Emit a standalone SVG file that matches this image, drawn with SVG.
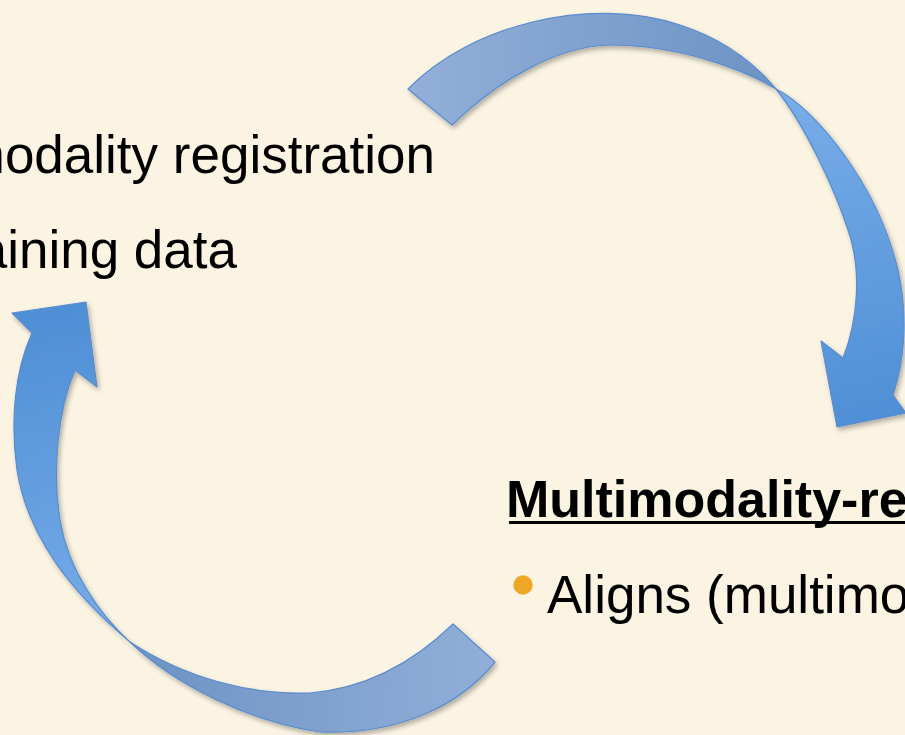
<svg xmlns="http://www.w3.org/2000/svg" width="905" height="735" viewBox="0 0 905 735">
  <defs>
    <style>
      .txt { font-family: "Liberation Sans", Arial, Helvetica, sans-serif; fill: #000000; }
      .reg { font-size: 53px; }
      .bold { font-size: 52px; font-weight: bold; }
      .arrow { stroke: #5a8dcd; stroke-width: 1.2; stroke-linejoin: round; filter: url(#shadow); }
    </style>
    <filter id="shadow" x="-10%" y="-10%" width="120%" height="120%">
      <feGaussianBlur in="SourceAlpha" stdDeviation="2.5"/>
      <feOffset dx="2" dy="3" result="b"/>
      <feComponentTransfer><feFuncA type="linear" slope="0.3"/></feComponentTransfer>
      <feMerge><feMergeNode/><feMergeNode in="SourceGraphic"/></feMerge>
    </filter>
    <linearGradient id="gTopBack" gradientUnits="userSpaceOnUse" x1="408" y1="89" x2="776" y2="89">
      <stop offset="0" stop-color="#93afd9"/>
      <stop offset="1" stop-color="#6c94c5"/>
    </linearGradient>
    <linearGradient id="gTopFront" gradientUnits="userSpaceOnUse" x1="780" y1="90" x2="860" y2="425">
      <stop offset="0" stop-color="#79ade9"/>
      <stop offset="1" stop-color="#4f8fd6"/>
    </linearGradient>
    <linearGradient id="gBotBack" gradientUnits="userSpaceOnUse" x1="495" y1="662" x2="130" y2="642">
      <stop offset="0" stop-color="#92aed9"/>
      <stop offset="1" stop-color="#6c93c4"/>
    </linearGradient>
    <linearGradient id="gBotFront" gradientUnits="userSpaceOnUse" x1="50" y1="305" x2="125" y2="645">
      <stop offset="0" stop-color="#4e8ed5"/>
      <stop offset="1" stop-color="#79ade9"/>
    </linearGradient>
  </defs>

  <rect x="0" y="0" width="905" height="735" fill="#fbf4e3"/>

  <g id="connectors">
    <g id="arrow-top">
      <path class="arrow" fill="url(#gTopBack)" d="M408,89 C470,25 590,-5 680,25 C720,38 752,60 776,89 C745,70 680,45 610,45 C555,46 495,83 452,125 Z"/>
      <path class="arrow" fill="url(#gTopFront)" d="M776,89 C815,108 878,185 898,270 C908,315 905,360 893,395 L906,413 L837,427 L821,341 L843,358 C858,320 862,270 848,230 C835,190 805,125 776,89 Z"/>
    </g>
    <g id="arrow-bottom">
      <path class="arrow" fill="url(#gBotBack)" d="M495,662 C460,705 400,735 320,732 C250,722 175,685 130,642 C185,678 250,695 310,693 C370,688 418,658 453,624 Z"/>
      <path class="arrow" fill="url(#gBotFront)" d="M130,642 C75,595 28,540 17,470 C10,420 15,370 32,333 L12,313 L86,302 L97,387 L75,370 C58,410 52,470 60,520 C68,570 100,615 130,642 Z"/>
    </g>
  </g>

  <g id="node-left">
    <text class="txt reg" x="435" y="173" text-anchor="end">modality registration</text>
    <text class="txt reg" x="237" y="268" text-anchor="end">raining data</text>
  </g>

  <g id="node-right">
    <text class="txt bold" x="506" y="517">Multimodality-re</text>
    <rect x="509" y="521" width="400" height="3" fill="#000000"/>
    <circle cx="523" cy="585" r="9.7" fill="#eea826"/>
    <text class="txt reg" x="547" y="613">Aligns (multimo</text>
  </g>
</svg>
